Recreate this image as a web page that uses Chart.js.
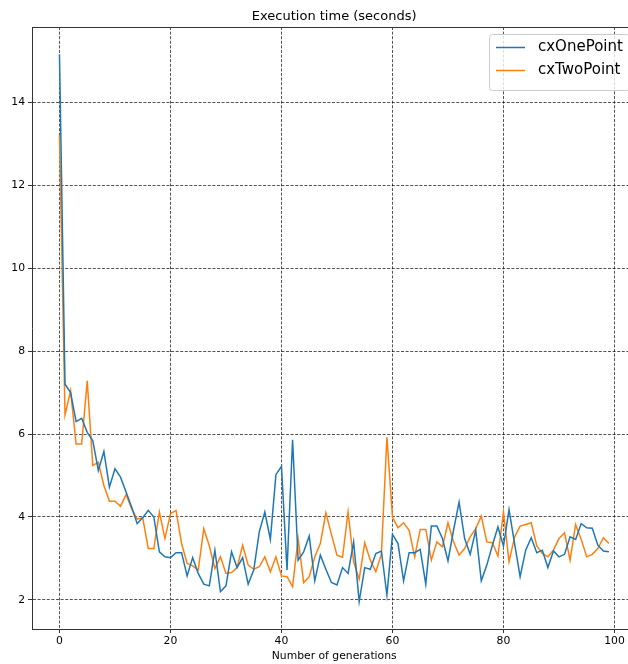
<!DOCTYPE html>
<html>
<head>
<meta charset="utf-8">
<script src="https://cdn.jsdelivr.net/npm/chart.js@4.4.1/dist/chart.umd.min.js"></script>
<style>
  html, body { margin: 0; padding: 0; background: #fff; overflow: hidden; }
  #wrap { width: 628px; height: 664px; overflow: hidden; position: relative; }
  canvas { display: block; }
</style>
</head>
<body>
<div id="wrap"><canvas id="c" width="660" height="664"></canvas></div>
<script>
// Execution time per generation for the two crossover operators
const seriesNames = ['cxOnePoint', 'cxTwoPoint'];
const seriesColors = ['#1f77b4', '#ff7f0e'];

const cxOnePoint = [
  15.15, 7.2, 7.0, 6.3, 6.38, 6.04, 5.84, 5.12, 5.58, 4.72,
  5.16, 4.96, 4.6, 4.24, 3.84, 3.98, 4.16, 4.0, 3.16, 3.04,
  3.02, 3.14, 3.14, 2.58, 3.02, 2.64, 2.38, 2.34, 3.2, 2.2,
  2.34, 3.16, 2.78, 3.02, 2.38, 2.72, 3.64, 4.12, 3.46, 5.02,
  5.22, 2.72, 5.86, 2.96, 3.16, 3.54, 2.46, 3.08, 2.74, 2.42,
  2.36, 2.78, 2.64, 3.4, 1.96, 2.78, 2.74, 3.12, 3.18, 2.12,
  3.58, 3.36, 2.46, 3.14, 3.14, 3.22, 2.38, 3.78, 3.78, 3.48,
  2.94, 3.68, 4.36, 3.48, 3.1, 3.68, 2.46, 2.84, 3.32, 3.76,
  3.3, 4.18, 3.36, 2.56, 3.2, 3.5, 3.14, 3.2, 2.78, 3.18,
  3.04, 3.1, 3.52, 3.46, 3.84, 3.74, 3.73, 3.32, 3.18, 3.16
];

const cxTwoPoint = [
  13.2, 6.46, 7.04, 5.76, 5.76, 7.28, 5.24, 5.32, 4.76, 4.38,
  4.38, 4.26, 4.54, 4.2, 3.95, 3.98, 3.24, 3.24, 4.12, 3.48,
  4.08, 4.16, 3.36, 2.88, 2.82, 2.72, 3.72, 3.3, 2.76, 3.04,
  2.64, 2.66, 2.78, 3.32, 2.84, 2.74, 2.8, 3.04, 2.68, 3.04,
  2.58, 2.56, 2.32, 3.48, 2.42, 2.56, 3.04, 3.36, 4.1, 3.58,
  3.08, 3.03, 4.12, 2.92, 2.5, 3.38, 2.96, 2.68, 3.1, 5.92,
  4.0, 3.74, 3.86, 3.68, 3.04, 3.7, 3.7, 2.96, 3.4, 3.28,
  3.86, 3.4, 3.08, 3.24, 3.52, 3.72, 4.02, 3.4, 3.38, 3.06,
  4.12, 2.92, 3.52, 3.78, 3.82, 3.86, 3.3, 3.12, 3.04, 3.2,
  3.48, 3.62, 2.96, 3.82, 3.46, 3.04, 3.1, 3.24, 3.5, 3.36
];

const xTicks = [0, 20, 40, 60, 80, 100];
const yTicks = [2, 4, 6, 8, 10, 12, 14];

const FONT = 'DejaVu Sans';

const toPoints = arr => arr.map((v, i) => ({ x: i, y: v }));

// Title, top spine and the framed legend, drawn over the plot
const decorations = {
  id: 'decorations',
  afterDraw(chart) {
    const { ctx, chartArea: a } = chart;
    ctx.save();
    // top spine
    ctx.strokeStyle = '#333';
    ctx.lineWidth = 1;
    ctx.beginPath();
    ctx.moveTo(a.left, a.top + 0.5);
    ctx.lineTo(a.right, a.top + 0.5);
    ctx.stroke();

    // title
    ctx.fillStyle = '#000';
    ctx.font = '13px "' + FONT + '"';
    ctx.textAlign = 'center';
    ctx.textBaseline = 'middle';
    ctx.fillText('Execution time (seconds)', (a.left + a.right) / 2, 17);

    // legend frame
    const fx = 489.5, fy = 34.5, fw = a.right - 7 - fx, fh = 56;
    const r = 3;
    ctx.beginPath();
    ctx.moveTo(fx + r, fy);
    ctx.lineTo(fx + fw - r, fy);
    ctx.arcTo(fx + fw, fy, fx + fw, fy + r, r);
    ctx.lineTo(fx + fw, fy + fh - r);
    ctx.arcTo(fx + fw, fy + fh, fx + fw - r, fy + fh, r);
    ctx.lineTo(fx + r, fy + fh);
    ctx.arcTo(fx, fy + fh, fx, fy + fh - r, r);
    ctx.lineTo(fx, fy + r);
    ctx.arcTo(fx, fy, fx + r, fy, r);
    ctx.closePath();
    ctx.fillStyle = 'rgba(255,255,255,0.8)';
    ctx.fill();
    ctx.strokeStyle = '#cccccc';
    ctx.lineWidth = 1;
    ctx.stroke();

    ctx.font = '15px "' + FONT + '"';
    ctx.textAlign = 'left';
    ctx.textBaseline = 'middle';
    chart.data.datasets.forEach((ds, i) => {
      const y = 47.5 + i * 23;
      ctx.strokeStyle = ds.borderColor;
      ctx.lineWidth = 1.5;
      ctx.beginPath();
      ctx.moveTo(496, y);
      ctx.lineTo(525, y);
      ctx.stroke();
      ctx.fillStyle = '#000';
      ctx.fillText(ds.label, 538, y);
    });
    ctx.restore();
  }
};

const gridCommon = {
  color: 'rgba(0,0,0,0.85)',
  lineWidth: 0.8,
  tickColor: '#333',
  tickLength: 4,
  tickWidth: 1
};

new Chart(document.getElementById('c'), {
  type: 'line',
  data: {
    datasets: seriesNames.map((name, k) => ({
      label: name,
      data: toPoints(k === 0 ? cxOnePoint : cxTwoPoint),
      borderColor: seriesColors[k],
      backgroundColor: seriesColors[k],
      borderWidth: 1.5,
      pointRadius: 0,
      tension: 0,
      fill: false
    }))
  },
  options: {
    responsive: false,
    animation: false,
    devicePixelRatio: 1,
    layout: { padding: { top: 27, right: 660 - 636.4, left: 0, bottom: 0 } },
    plugins: {
      legend: { display: false },
      title: { display: false },
      tooltip: { enabled: false }
    },
    scales: {
      x: {
        type: 'linear',
        min: -4.95,
        max: 103.95,
        afterBuildTicks: s => { s.ticks = xTicks.map(v => ({ value: v })); },
        afterFit: s => { s.height = 35; },
        grid: gridCommon,
        border: { display: true, color: '#333', width: 1, dash: [3, 1.6] },
        ticks: {
          color: '#000',
          font: { family: FONT, size: 10.8 },
          padding: 2,
          maxRotation: 0,
          autoSkip: false
        },
        title: {
          display: true,
          text: 'Number of generations',
          color: '#000',
          font: { family: FONT, size: 10.8 },
          padding: { top: 0, bottom: 1 }
        }
      },
      y: {
        type: 'linear',
        min: 1.30,
        max: 15.81,
        afterBuildTicks: s => { s.ticks = yTicks.map(v => ({ value: v })); },
        afterFit: s => { s.width = 32; },
        grid: gridCommon,
        border: { display: true, color: '#333', width: 1, dash: [3, 1.6] },
        ticks: {
          color: '#000',
          font: { family: FONT, size: 10.8 },
          padding: 3
        }
      }
    }
  },
  plugins: [decorations]
});
</script>
</body>
</html>
